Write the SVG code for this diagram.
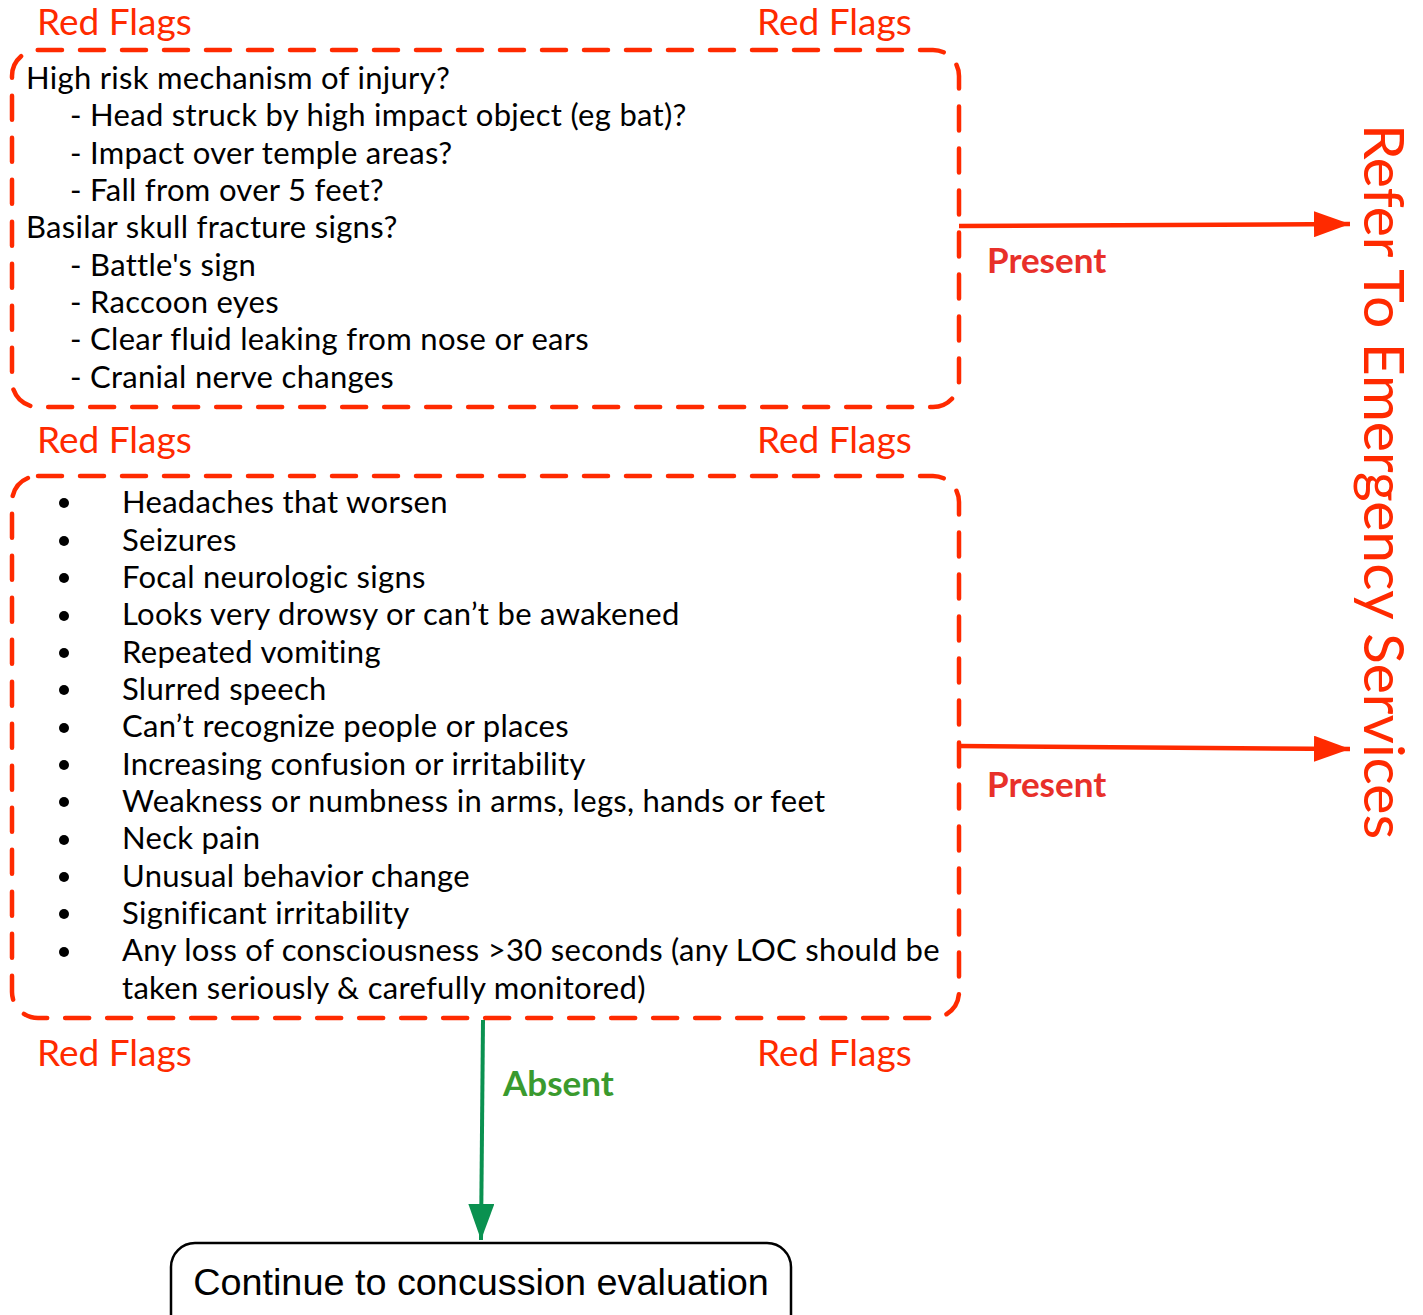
<svg xmlns="http://www.w3.org/2000/svg" width="1423" height="1315" viewBox="0 0 1423 1315">
<defs>
<style>
.txt{font-family:Lato,"Open Sans","Liberation Sans",sans-serif;font-size:31px;letter-spacing:0.3px;fill:#000}
.rf{font-family:Lato,"Open Sans","Liberation Sans",sans-serif;font-size:37px;fill:#ff2a00}
.lbl{font-family:Lato,"Liberation Sans",sans-serif;font-size:35px;font-weight:bold}
.dash{fill:none;stroke:#ff2a00;stroke-width:4.5;stroke-dasharray:24 18;stroke-linecap:round}
.bullet{fill:#000}
</style>
<marker id="ar" markerWidth="36" markerHeight="26" refX="36" refY="13" orient="auto" markerUnits="userSpaceOnUse" viewBox="0 0 36 26">
<path d="M0,0 L36,13 L0,26 z" fill="#ff2a00"/>
</marker>
<marker id="ag" markerWidth="36" markerHeight="26" refX="36" refY="13" orient="auto" markerUnits="userSpaceOnUse" viewBox="0 0 36 26">
<path d="M0,0 L36,13 L0,26 z" fill="#0a9150"/>
</marker>
</defs>
<rect width="1423" height="1315" fill="#fff"/>

<g id="labels-red-flags">
<text class="rf" x="37" y="35">Red Flags</text>
<text class="rf" x="757" y="35">Red Flags</text>
<text class="rf" x="37" y="453">Red Flags</text>
<text class="rf" x="757" y="453">Red Flags</text>
<text class="rf" x="37" y="1066">Red Flags</text>
<text class="rf" x="757" y="1066">Red Flags</text>
</g>

<g id="box1">
<rect class="dash" x="12" y="50" width="947" height="357" rx="26"/>
<text class="txt" x="26" y="89">High risk mechanism of injury?</text>
<text class="txt" x="70" y="126">- Head struck by high impact object (eg bat)?</text>
<text class="txt" x="70" y="164">- Impact over temple areas?</text>
<text class="txt" x="70" y="201">- Fall from over 5 feet?</text>
<text class="txt" x="26" y="238">Basilar skull fracture signs?</text>
<text class="txt" x="70" y="276">- Battle's sign</text>
<text class="txt" x="70" y="313">- Raccoon eyes</text>
<text class="txt" x="70" y="350">- Clear fluid leaking from nose or ears</text>
<text class="txt" x="70" y="388">- Cranial nerve changes</text>
</g>

<g id="box2">
<rect class="dash" x="12" y="476" width="947" height="542" rx="26"/>
<g class="bullet">
<circle cx="64" cy="503" r="5"/>
<circle cx="64" cy="541" r="5"/>
<circle cx="64" cy="578" r="5"/>
<circle cx="64" cy="616" r="5"/>
<circle cx="64" cy="653" r="5"/>
<circle cx="64" cy="690" r="5"/>
<circle cx="64" cy="728" r="5"/>
<circle cx="64" cy="765" r="5"/>
<circle cx="64" cy="802" r="5"/>
<circle cx="64" cy="840" r="5"/>
<circle cx="64" cy="877" r="5"/>
<circle cx="64" cy="914" r="5"/>
<circle cx="64" cy="952" r="5"/>
</g>
<text class="txt" x="122" y="513">Headaches that worsen</text>
<text class="txt" x="122" y="551">Seizures</text>
<text class="txt" x="122" y="588">Focal neurologic signs</text>
<text class="txt" x="122" y="625">Looks very drowsy or can’t be awakened</text>
<text class="txt" x="122" y="663">Repeated vomiting</text>
<text class="txt" x="122" y="700">Slurred speech</text>
<text class="txt" x="122" y="737">Can’t recognize people or places</text>
<text class="txt" x="122" y="775">Increasing confusion or irritability</text>
<text class="txt" x="122" y="812">Weakness or numbness in arms, legs, hands or feet</text>
<text class="txt" x="122" y="849">Neck pain</text>
<text class="txt" x="122" y="887">Unusual behavior change</text>
<text class="txt" x="122" y="924">Significant irritability</text>
<text class="txt" x="122" y="961">Any loss of consciousness &gt;30 seconds (any LOC should be</text>
<text class="txt" x="122" y="999">taken seriously &amp; carefully monitored)</text>
</g>

<g id="refer">
<text font-family="Lato,'Open Sans','Liberation Sans',sans-serif" font-size="57" fill="#ff2a00" transform="translate(1364,124) rotate(90)">Refer To Emergency Services</text>
</g>

<g id="continue">
<rect x="171" y="1243" width="620" height="100" rx="24" fill="#fff" stroke="#000" stroke-width="2.5"/>
<text font-family="'Liberation Sans',Arial,sans-serif" font-size="37.8" fill="#000" x="481" y="1295" text-anchor="middle">Continue to concussion evaluation</text>
</g>

<g id="connectors">
<path d="M959,226 L1350,224" stroke="#ff2a00" stroke-width="4.5" fill="none" marker-end="url(#ar)"/>
<path d="M959,746 L1350,749" stroke="#ff2a00" stroke-width="4.5" fill="none" marker-end="url(#ar)"/>
<path d="M483,1020 L481,1240" stroke="#0a9150" stroke-width="4" fill="none" marker-end="url(#ag)"/>
<text class="lbl" x="987" y="273" fill="#e8302a">Present</text>
<text class="lbl" x="987" y="797" fill="#e8302a">Present</text>
<text class="lbl" x="503" y="1096" fill="#3a9a2e">Absent</text>
</g>
</svg>
